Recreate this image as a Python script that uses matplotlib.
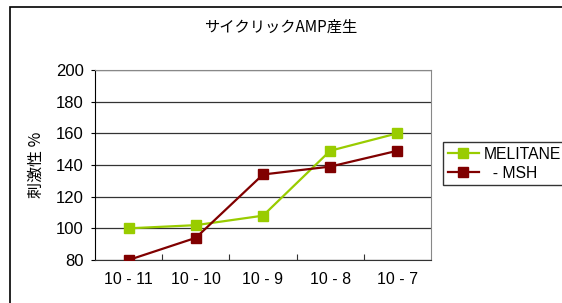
import matplotlib.pyplot as plt
from matplotlib.patches import Rectangle

plt.rcParams['font.family'] = ['Liberation Sans', 'Noto Sans CJK JP']

categories = ['10 - 11', '10 - 10', '10 - 9', '10 - 8', '10 - 7']
melitane = [100, 102, 108, 149, 160]
msh = [80, 94, 134, 139, 149]
series_names = ['MELITANE', '  - MSH']
yticks = [80, 100, 120, 140, 160, 180, 200]

fig = plt.figure(figsize=(5.62, 3.03), dpi=100)
# outer chart frame (runs off the right and bottom edge)
fig.patches.append(Rectangle((10 / 562, -0.1), 1.2, 1 - 7 / 303 + 0.1,
                             transform=fig.transFigure, fill=False,
                             edgecolor='black', lw=1.2))

ax = fig.add_axes([95 / 562, 1 - 260 / 303, 336 / 562, 190 / 303])
x = range(len(categories))
ax.plot(x, melitane, color='#99CC00', lw=1.6, marker='s', ms=6.5,
        label=series_names[0], zorder=3)
ax.plot(x, msh, color='#800000', lw=1.6, marker='s', ms=6.5,
        label=series_names[1], zorder=3)

ax.set_xlim(-0.5, 4.5)
ax.set_ylim(80, 200)
ax.set_yticks(yticks)
ax.yaxis.grid(True, color='#333333', lw=0.9)
ax.set_axisbelow(True)
ax.set_xticks([i + 0.5 for i in range(4)])
ax.set_xticklabels([])
ax.set_xticks(list(x), minor=True)
ax.set_xticklabels(categories, minor=True, fontsize=11.5)
ax.tick_params(axis='x', which='major', direction='in', length=4, color='#333333')
ax.tick_params(axis='x', which='minor', length=0, pad=9)
ax.tick_params(axis='y', direction='out', length=3, labelsize=12, pad=5)

for s in ['top', 'right']:
    ax.spines[s].set_color('#888888')
ax.spines['left'].set_color('black')
ax.spines['bottom'].set_color('#333333')

ax.set_ylabel('刺激性 %', fontsize=11.5, family=['Noto Sans CJK JP'], labelpad=8)
fig.text(0.5, 1 - 27 / 303, 'サイクリックAMP産生', ha='center', va='center',
         fontsize=11, family=['Noto Sans CJK JP'])

leg = fig.legend(loc='upper left', bbox_to_anchor=(443 / 562, 1 - 142 / 303),
                 fontsize=11.3, frameon=True, fancybox=False, edgecolor='black',
                 borderpad=0.3, handlelength=2.0, handletextpad=0.3,
                 labelspacing=0.25, borderaxespad=0)
leg.get_frame().set_linewidth(1.0)

fig.savefig('out.png', dpi=100)
